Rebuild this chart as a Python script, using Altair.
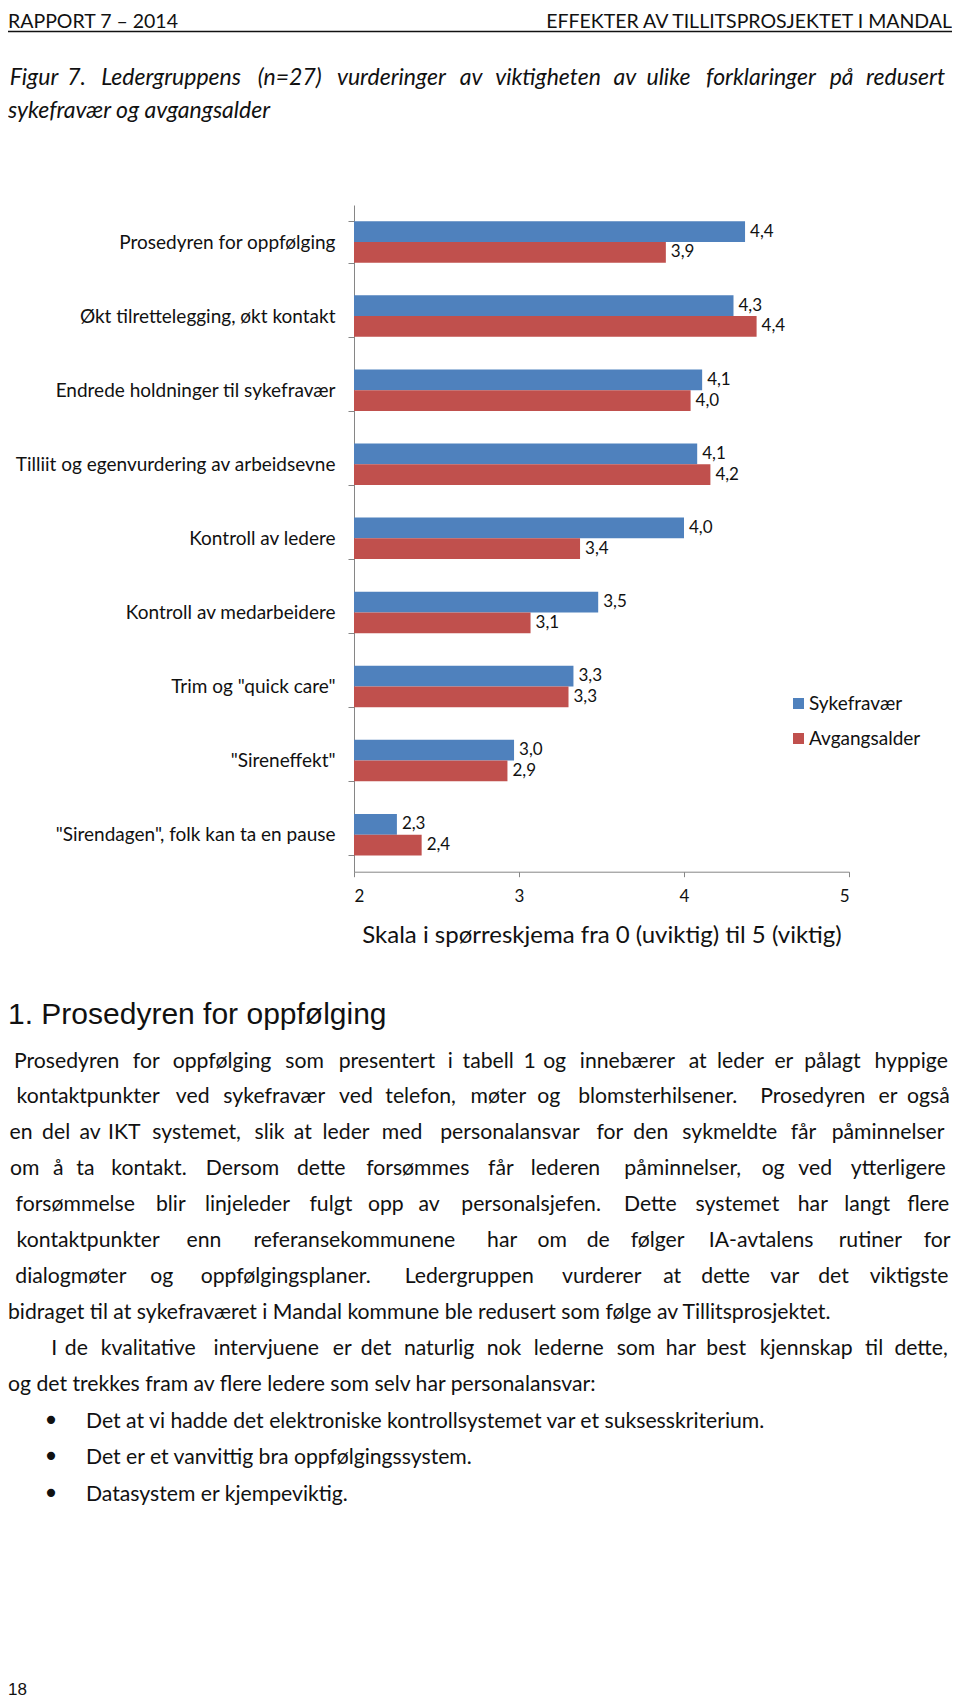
import altair as alt
import pandas as pd

# ---------------- chart data ----------------
categories = [
    "Prosedyren for oppfølging",
    "Økt tilrettelegging, økt kontakt",
    "Endrede holdninger til sykefravær",
    "Tilliit og egenvurdering av arbeidsevne",
    "Kontroll av ledere",
    "Kontroll av medarbeidere",
    'Trim og "quick care"',
    '"Sireneffekt"',
    '"Sirendagen", folk kan ta en pause',
]
series = ["Sykefravær", "Avgangsalder"]
sykefravaer = [4.37, 4.30, 4.11, 4.08, 4.00, 3.48, 3.33, 2.97, 2.26]
avgangsalder = [3.89, 4.44, 4.04, 4.16, 3.37, 3.07, 3.30, 2.93, 2.41]
x_ticks = [2, 3, 4, 5]
colors = ["#4F81BD", "#C0504D"]
x_title = "Skala i spørreskjema  fra 0 (uviktig) til 5 (viktig)"

# ---------------- page text ----------------
header_left = "RAPPORT 7 – 2014"
header_right = "EFFEKTER AV TILLITSPROSJEKTET I MANDAL"
caption_lines = [
    "Figur 7. Ledergruppens (n=27) vurderinger av viktigheten av ulike forklaringer på redusert",
    "sykefravær og avgangsalder",
]
heading = "1. Prosedyren for oppfølging"
para1 = [
    "Prosedyren for oppfølging som presentert i tabell 1 og innebærer at leder er pålagt hyppige",
    "kontaktpunkter ved sykefravær ved telefon, møter og blomsterhilsener. Prosedyren er også",
    "en del av IKT systemet, slik at leder med personalansvar for den sykmeldte får påminnelser",
    "om å ta kontakt. Dersom dette forsømmes får lederen påminnelser, og ved ytterligere",
    "forsømmelse blir linjeleder fulgt opp av personalsjefen. Dette systemet har langt flere",
    "kontaktpunkter enn referansekommunene har om de følger IA-avtalens rutiner for",
    "dialogmøter og oppfølgingsplaner. Ledergruppen vurderer at dette var det viktigste",
    "bidraget til at sykefraværet i Mandal kommune ble redusert som følge av Tillitsprosjektet.",
]
para2 = [
    "I de kvalitative intervjuene er det naturlig nok lederne som har best kjennskap til dette,",
    "og det trekkes fram av flere ledere som selv har personalansvar:",
]
bullets = [
    "Det at vi hadde det elektroniske kontrollsystemet var et suksesskriterium.",
    "Det er et vanvittig bra oppfølgingssystem.",
    "Datasystem er kjempeviktig.",
]
page_number = "18"

# ---------------- layout constants ----------------
W, H = 944, 1691
FONT = "Lato"
BODY_SIZE = 21.2
TXT = "#111111"
AXIS_GRAY = "#868686"
X_RANGE = [346, 841]
Y_RANGE = [197, 863.7]

# approximate glyph widths (1/1000 em) used only to spread words of justified lines
CAL = {" ": 226, "!": 326, '"': 401, "(": 303, ")": 303, ",": 250, "-": 306, ".": 252,
       ":": 268, "=": 498, "–": 498, "A": 579, "B": 544, "C": 533, "D": 615, "E": 488,
       "F": 459, "G": 631, "H": 623, "I": 252, "J": 319, "K": 520, "L": 420, "M": 855,
       "N": 646, "O": 662, "P": 517, "Q": 673, "R": 543, "S": 459, "T": 487, "U": 642,
       "V": 567, "W": 890, "X": 519, "Y": 487, "Z": 468, "a": 479, "b": 525, "c": 423,
       "d": 525, "e": 498, "f": 305, "g": 471, "h": 525, "i": 229, "j": 239, "k": 455,
       "l": 229, "m": 799, "n": 525, "o": 527, "p": 525, "q": 525, "r": 349, "s": 391,
       "t": 335, "u": 525, "v": 452, "w": 715, "x": 433, "y": 453, "z": 395, "æ": 773,
       "ø": 527, "å": 479, "Ø": 662}


def est(s):
    return sum(CAL.get(c, 507) for c in s)


UNIT = 923.0 / est(para1[7])


def justify(line, x0, x1, y, unit=UNIT):
    words = line.split(" ")
    ws = [est(w) * unit for w in words]
    gap = (x1 - x0 - sum(ws)) / (len(words) - 1)
    rows, cur = [], x0
    for w, wd in zip(words, ws):
        rows.append({"t": w, "px": cur + wd / 2, "py": y})
        cur += wd + gap
    return rows


body_y0, body_dy = 1053.5, 35.9
words_rows = []
left_rows = []
for i, line in enumerate(para1):
    y = body_y0 + i * body_dy
    if i < len(para1) - 1:
        words_rows += justify(line, 0, W, y)
    else:
        left_rows.append({"t": line, "px": 0, "py": y})
y9 = body_y0 + 8 * body_dy
words_rows += justify(para2[0], 43, W, y9)
left_rows.append({"t": para2[1], "px": 0, "py": body_y0 + 9 * body_dy})
bullet_rows = []
for j, b in enumerate(bullets):
    y = 1413.7 + j * 36.7
    left_rows.append({"t": b, "px": 78, "py": y})
    bullet_rows.append({"t": "•", "px": 43, "py": y})

cap_rows = justify(caption_lines[0], 0, 942, 70.4, unit=UNIT * 1.01)

one = pd.DataFrame({"k": [0]})


def pix():
    return dict(
        x=alt.X("px:Q", scale=None, axis=None),
        y=alt.Y("py:Q", scale=None, axis=None),
        text="t:N",
    )


words_layer = alt.Chart(pd.DataFrame(words_rows)).mark_text(
    align="center", baseline="middle", font=FONT, fontSize=BODY_SIZE, color=TXT
).encode(**pix())
left_layer = alt.Chart(pd.DataFrame(left_rows)).mark_text(
    align="left", baseline="middle", font=FONT, fontSize=BODY_SIZE, color=TXT
).encode(**pix())
bullet_layer = alt.Chart(pd.DataFrame(bullet_rows)).mark_text(
    align="center", baseline="middle", font="DejaVu Sans", fontSize=28, color=TXT
).encode(**pix())
cap_layer = alt.Chart(pd.DataFrame(cap_rows)).mark_text(
    align="center", baseline="middle", font=FONT, fontSize=23, fontStyle="italic", color=TXT
).encode(**pix())


def fixed_text(txt, x, y, **kw):
    return alt.Chart(one).mark_text(**kw).encode(
        x=alt.value(x), y=alt.value(y), text=alt.value(txt)
    )


header_l = fixed_text(header_left, 0, 19.5, align="left", baseline="alphabetic",
                      font=FONT, fontSize=19.5, color=TXT)
header_r = fixed_text(header_right, W, 19.5, align="right", baseline="alphabetic",
                      font=FONT, fontSize=19.5, color=TXT)
header_rule = alt.Chart(one).mark_rule(color=TXT, strokeWidth=1.6).encode(
    x=alt.value(0), x2=alt.value(W), y=alt.value(23.5)
)
cap2 = fixed_text(caption_lines[1], 0, 103, align="left", baseline="middle",
                  font=FONT, fontSize=23, fontStyle="italic", color=TXT)
head = fixed_text(heading, 0, 1007, align="left", baseline="middle",
                  font="Liberation Sans", fontSize=30, color=TXT)
pnum = fixed_text(page_number, 0, 1682, align="left", baseline="middle",
                  font="Liberation Sans", fontSize=17, color=TXT)

# ---------------- bar chart ----------------
rows = []
for c, a, b in zip(categories, sykefravaer, avgangsalder):
    rows.append({"category": c, "series": series[0], "value": a})
    rows.append({"category": c, "series": series[1], "value": b})
df = pd.DataFrame(rows)

xs = alt.Scale(domain=[2, 5], range=X_RANGE, zero=False, nice=False)
ys = alt.Scale(domain=categories, range=Y_RANGE, paddingInner=0.44, paddingOuter=0.22)
yos = alt.Scale(domain=series, paddingInner=0, paddingOuter=0)

base = alt.Chart(df)
bars = base.mark_bar().encode(
    x=alt.X(
        "value:Q", scale=xs,
        axis=alt.Axis(
            orient="bottom", offset=-(H - Y_RANGE[1]), values=x_ticks, format="d",
            grid=False, domainColor=AXIS_GRAY, tickColor=AXIS_GRAY, tickSize=5,
            labelFont=FONT, labelFontSize=17, labelColor=TXT, labelPadding=12,
            title=x_title, titleFont=FONT, titleFontSize=24, titleFontWeight="normal",
            titleColor=TXT, titlePadding=19,
        ),
    ),
    x2=alt.datum(2),
    y=alt.Y(
        "category:N", sort=categories, scale=ys,
        axis=alt.Axis(
            orient="left", offset=-X_RANGE[0], title=None, grid=False,
            domainColor=AXIS_GRAY, tickColor=AXIS_GRAY, tickSize=6, tickBand="extent",
            labelFont=FONT, labelFontSize=19, labelColor=TXT, labelPadding=13,
            labelLimit=500,
        ),
    ),
    yOffset=alt.YOffset("series:N", sort=series, scale=yos),
    color=alt.Color(
        "series:N", sort=series, scale=alt.Scale(domain=series, range=colors),
        legend=alt.Legend(
            orient="none", legendX=781, legendY=686, title=None, symbolType="square",
            symbolSize=121, symbolStrokeWidth=0, labelFont=FONT, labelFontSize=19,
            labelColor=TXT, labelOffset=1, rowPadding=15,
        ),
    ),
)
labels = base.transform_calculate(
    lab="replace(format(datum.value, '.1f'), '.', ',')"
).mark_text(align="left", baseline="middle", dx=5, font=FONT, fontSize=17, color=TXT).encode(
    x=alt.X("value:Q", scale=xs),
    y=alt.Y("category:N", sort=categories, scale=ys),
    yOffset=alt.YOffset("series:N", sort=series, scale=yos),
    text="lab:N",
)
barchart = alt.layer(bars, labels)

chart = alt.layer(
    barchart, header_rule, header_l, header_r, cap_layer, cap2, head,
    words_layer, left_layer, bullet_layer, pnum,
).resolve_scale(x="independent", y="independent").properties(
    width=W, height=H, padding=0, autosize=alt.AutoSizeParams(type="none"),
    background="white",
).configure_view(stroke=None)

chart.save("out.html", embed_options={"renderer": "svg", "actions": False})
